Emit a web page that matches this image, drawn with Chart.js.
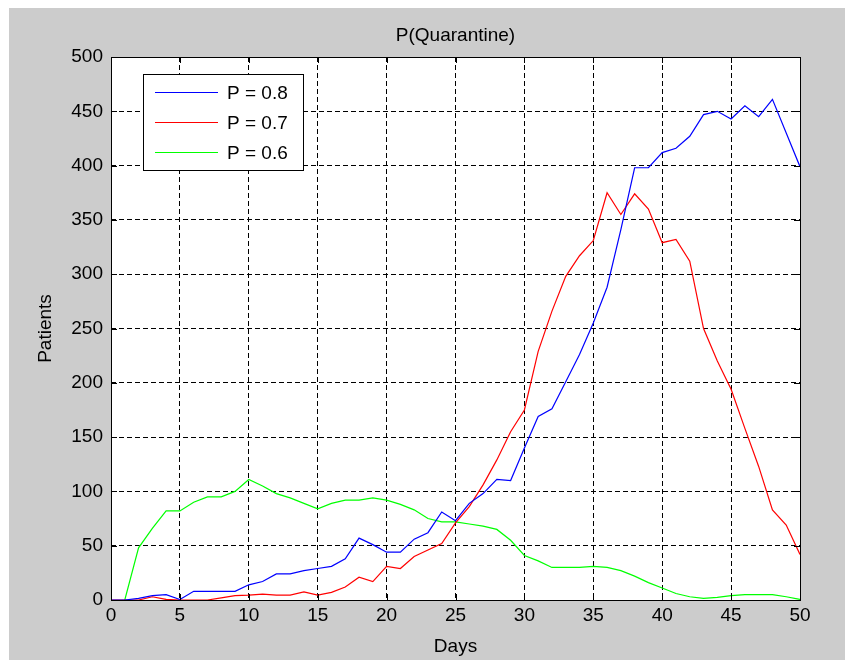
<!DOCTYPE html>
<html>
<head>
<meta charset="utf-8">
<script src="https://cdn.jsdelivr.net/npm/chart.js@4.4.1/dist/chart.umd.min.js"></script>
<style>
html,body{margin:0;padding:0;background:#fff;}
#wrap{position:absolute;left:0;top:0;width:845px;height:661px;}
</style>
</head>
<body>
<div id="wrap"><canvas id="c" width="845" height="661"></canvas></div>
<script>
const days = Array.from({length: 51}, (_, i) => i);
const seriesLabels = ['P = 0.8', 'P = 0.7', 'P = 0.6'];
const p08 = [0,0,1.5,4,5,0.5,8,8,8,8,14,17,24,24,27,29,31,38,57,51,44,44,56,62,81,73,89,98,111,110,140,169,176,201,226,255,288,341,398,398,412,416,427,447,450,443,455,445,461,430,399];
const p07 = [0,0,0,3,0.5,0,0,0,2,4,4.5,5.5,4.5,4.5,7.5,4.5,7,12,21,17,31,29,40,46,52,71,86,106,129,155,175,229,266,298,317,331,375,355,374,360,329,332,312,250,220,194,158,123,83,69,42];
const p06 = [null,0,48,66,82,82,90,95,95,100,111,105,98,94,89,84,89,92,92,94,92,88,83,75,72,72,70,68,65,55,41,36,30,30,30,31,30,27,22,16,11,6,3,1.5,2.5,4,5,5,5,3,0.5];
const xTicks = [0,5,10,15,20,25,30,35,40,45,50];
const yTicks = [0,50,100,150,200,250,300,350,400,450,500];
const titleText = 'P(Quarantine)';
const xTitle = 'Days';
const yTitle = 'Patients';

const FONT = 'Arial, "Liberation Sans", Helvetica, sans-serif';

const toXY = arr => days.map((d, i) => ({x: d, y: arr[i]}));

const framePlugin = {
  id: 'frame',
  beforeDraw(chart) {
    const ctx = chart.ctx;
    const a = chart.chartArea;
    ctx.save();
    ctx.fillStyle = '#ffffff';
    ctx.fillRect(0, 0, chart.width, chart.height);
    ctx.fillStyle = '#cccccc';
    ctx.fillRect(9, 8, chart.width - 9, chart.height - 9);
    ctx.fillStyle = '#ffffff';
    ctx.fillRect(a.left, a.top, a.right - a.left, a.bottom - a.top);
    // title centred over the axes
    ctx.fillStyle = '#000';
    ctx.font = '19px ' + FONT;
    ctx.textAlign = 'center';
    ctx.textBaseline = 'middle';
    ctx.fillText(titleText, (a.left + a.right) / 2, 36);
    ctx.restore();
  },
  afterDatasetsDraw(chart) {
    const ctx = chart.ctx;
    const a = chart.chartArea;
    const xs = chart.scales.x, ys = chart.scales.y;
    ctx.save();
    ctx.strokeStyle = '#000';
    ctx.lineWidth = 1;
    ctx.beginPath();
    const L = 6;
    xTicks.forEach(v => {
      const px = Math.round(xs.getPixelForValue(v)) + 0.5;
      ctx.moveTo(px, a.bottom); ctx.lineTo(px, a.bottom - L);
      ctx.moveTo(px, a.top); ctx.lineTo(px, a.top + L);
    });
    yTicks.forEach(v => {
      const py = Math.round(ys.getPixelForValue(v)) + 0.5;
      ctx.moveTo(a.left, py); ctx.lineTo(a.left + L, py);
      ctx.moveTo(a.right, py); ctx.lineTo(a.right - L, py);
    });
    ctx.stroke();
    ctx.strokeRect(Math.round(a.left) + 0.5, Math.round(a.top) + 0.5, Math.round(a.right - a.left), Math.round(a.bottom - a.top));
    // legend box
    const bx = 143.5, by = 74.5, bw = 160, bh = 96;
    ctx.fillStyle = '#fff';
    ctx.fillRect(bx, by, bw, bh);
    ctx.strokeRect(bx, by, bw, bh);
    ctx.font = '19px ' + FONT;
    ctx.textBaseline = 'middle';
    ctx.textAlign = 'left';
    chart.data.datasets.forEach((ds, i) => {
      const y = 92.5 + i * 30;
      ctx.strokeStyle = ds.borderColor;
      ctx.beginPath();
      ctx.moveTo(155, y); ctx.lineTo(218, y);
      ctx.stroke();
      ctx.fillStyle = '#000';
      ctx.fillText(ds.label, 227, y + 1);
    });
    ctx.restore();
  }
};

new Chart(document.getElementById('c'), {
  type: 'line',
  data: {
    datasets: [
      {label: seriesLabels[0], data: toXY(p08), borderColor: '#0000ff'},
      {label: seriesLabels[1], data: toXY(p07), borderColor: '#ff0000'},
      {label: seriesLabels[2], data: toXY(p06), borderColor: '#00ff00'}
    ]
  },
  options: {
    responsive: false,
    animation: false,
    events: [],
    layout: {padding: {left: 0, right: 45, top: 57, bottom: 0}},
    elements: {
      line: {borderWidth: 1.2, tension: 0},
      point: {radius: 0}
    },
    plugins: {
      legend: {display: false},
      tooltip: {enabled: false},
      title: {display: false}
    },
    scales: {
      x: {
        type: 'linear',
        min: 0, max: 50,
        afterFit(s) { s.height = 61; },
        afterBuildTicks(s) { s.ticks = xTicks.map(v => ({value: v})); },
        ticks: {color: '#000', font: {family: FONT, size: 19}, padding: 4, maxRotation: 0, autoSkip: false},
        grid: {color: '#000', lineWidth: 1, drawTicks: false},
        border: {display: false, dash: [5, 3]},
        title: {display: true, text: xTitle, color: '#000', font: {family: FONT, size: 19}, padding: {top: 0, bottom: 3}}
      },
      y: {
        type: 'linear',
        min: 0, max: 500,
        afterFit(s) { s.width = 111; },
        afterBuildTicks(s) { s.ticks = yTicks.map(v => ({value: v})); },
        ticks: {color: '#000', font: {family: FONT, size: 19}, padding: 8, autoSkip: false},
        grid: {color: '#000', lineWidth: 1, drawTicks: false},
        border: {display: false, dash: [5, 3]},
        title: {display: true, text: yTitle, color: '#000', font: {family: FONT, size: 19}, padding: {top: 34, bottom: 0}}
      }
    }
  },
  plugins: [framePlugin]
});
</script>
</body>
</html>
